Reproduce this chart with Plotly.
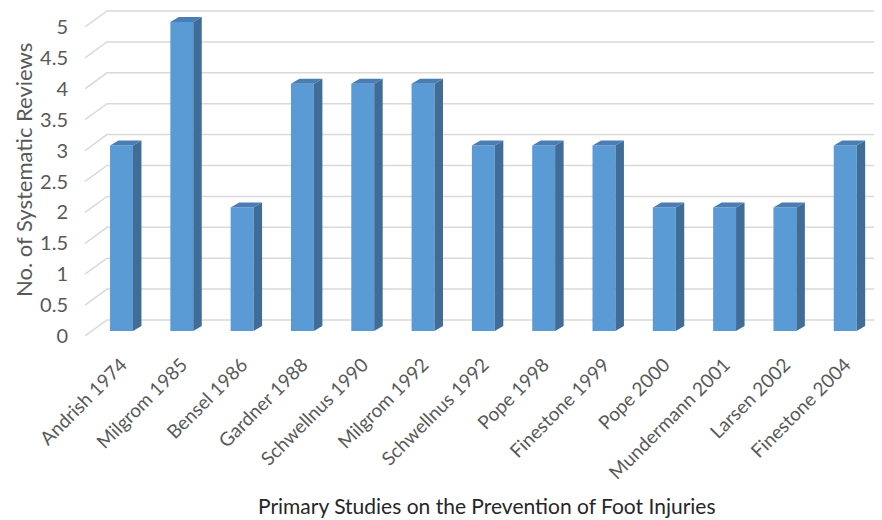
import plotly.graph_objects as go

categories = ["Andrish 1974", "Milgrom 1985", "Bensel 1986", "Gardner 1988",
              "Schwellnus 1990", "Milgrom 1992", "Schwellnus 1992", "Pope 1998",
              "Finestone 1999", "Pope 2000", "Mundermann 2001", "Larsen 2002",
              "Finestone 2004"]
reviews = [3, 5, 2, 4, 4, 4, 3, 3, 3, 2, 2, 2, 3]
y_ticks = [0, 0.5, 1, 1.5, 2, 2.5, 3, 3.5, 4, 4.5, 5]
y_tick_labels = ["0", "0.5", "1", "1.5", "2", "2.5", "3", "3.5", "4", "4.5", "5"]

FONT = "Lato"
GRAY = "#595959"
FRONT = "#5B9BD5"
SIDE = "#3F6D98"
TOP = "#4A7DB3"
GRID = "#D9D9D9"

W = 0.38      # bar width (x units)
DX = 0.141    # depth offset x (x units)
DY = 0.081    # depth offset y (y units)
X0, X1 = -0.605, 12.61
WALL_X = -0.24
WALL_DY = 0.178
SIDE_DY = -0.081

idx = list(range(len(categories)))

fig = go.Figure()

sx, sy = [], []
tx, ty = [], []
for i, v in zip(idx, reviews):
    r = i + W / 2
    l = i - W / 2
    sx += [r, r + DX, r + DX, r, r, None]
    sy += [0, DY, v + DY, v, 0, None]
    tx += [l, r, r + DX, l + DX, l, None]
    ty += [v, v, v + DY, v + DY, v, None]

fig.add_trace(go.Bar(x=idx, y=reviews, width=W, marker=dict(color=FRONT, line=dict(width=0)),
                     hoverinfo="skip"))
fig.add_trace(go.Scatter(x=sx, y=sy, fill="toself", fillcolor=SIDE, mode="lines",
                         line=dict(width=0, color=SIDE), hoverinfo="skip"))
fig.add_trace(go.Scatter(x=tx, y=ty, fill="toself", fillcolor=TOP, mode="lines",
                         line=dict(width=0, color=TOP), hoverinfo="skip"))

shapes = []
for v in y_ticks:
    shapes.append(dict(type="path", xref="x", yref="y", layer="below",
                       path=f"M {X0} {v + SIDE_DY} L {WALL_X} {v + WALL_DY} L {X1} {v + WALL_DY}",
                       line=dict(color=GRID, width=1.5)))

fig.update_layout(
    width=882, height=520,
    margin=dict(l=77, r=8, t=0, b=183),
    paper_bgcolor="white", plot_bgcolor="white",
    showlegend=False,
    shapes=shapes,
    xaxis=dict(range=[X0, X1], tickmode="array", tickvals=idx, ticktext=categories,
               tickangle=-45, showgrid=False, zeroline=False, showline=False, ticks="",
               tickfont=dict(family=FONT, size=19, color=GRAY), ticklabelstandoff=4),
    yaxis=dict(range=[-0.2265, 5.2265], tickmode="array", tickvals=y_ticks, ticktext=y_tick_labels,
               showgrid=False, zeroline=False, showline=False, ticks="",
               tickfont=dict(family=FONT, size=20, color=GRAY), ticklabelstandoff=16,
               ticklabelshift=5),
    annotations=[
        dict(text="No. of Systematic Reviews", xref="paper", yref="paper",
             x=-0.078, y=0.519, textangle=-90, showarrow=False,
             xanchor="center", yanchor="middle",
             font=dict(family=FONT, size=22, color=GRAY)),
        dict(text="Primary Studies on the Prevention of Foot Injuries", xref="paper", yref="paper",
             x=0.504, y=-0.475, showarrow=False, xanchor="center", yanchor="middle",
             font=dict(family=FONT, size=21, color="#262626")),
    ],
)

fig.write_html("out.html")
